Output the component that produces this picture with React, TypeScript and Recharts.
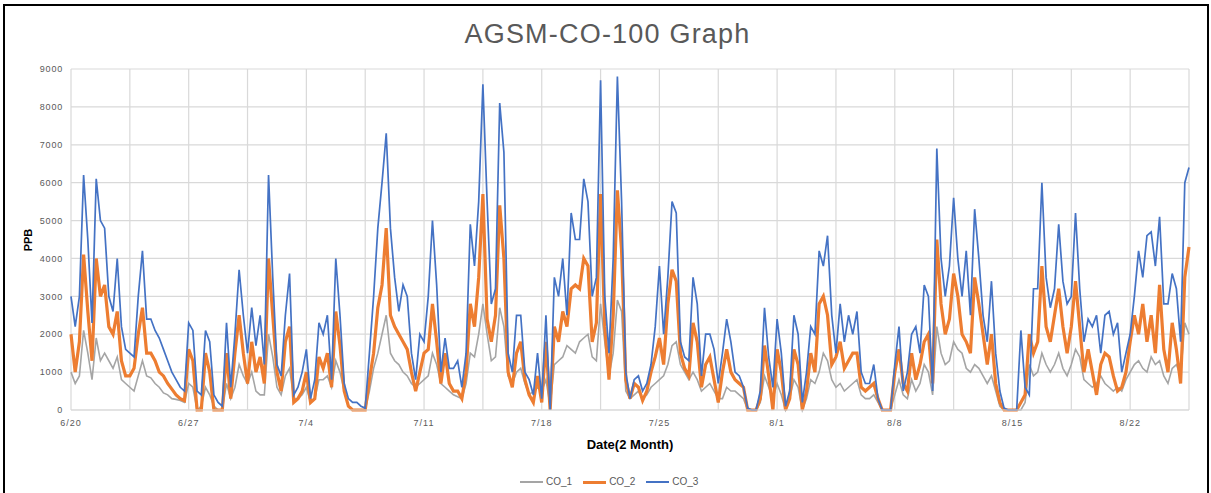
import { LineChart, Line, XAxis, YAxis, CartesianGrid } from "recharts";

// hourly readings thinned to one value every 6 hours, starting 6/20 00:00
const SAMPLES_PER_DAY = 4;

const dateLabels = ["6/20", "6/27", "7/4", "7/11", "7/18", "7/25", "8/1", "8/8", "8/15", "8/22"];

const co1 = [
  1000, 700, 900, 2100, 1500, 800, 1900, 1300, 1500, 1300, 1100, 1400, 800, 700, 600, 500,
  900, 1300, 900, 850, 700, 600, 450, 400, 300, 280, 250, 200, 700, 600, 0, 100,
  600, 400, 100, 0, 0, 700, 300, 600, 1200, 900, 700, 1000, 500, 400, 400, 2000,
  1400, 600, 400, 900, 1100, 300, 300, 400, 600, 200, 300, 800, 800, 900, 600, 1300,
  1000, 500, 100, 0, 0, 0, 0, 500, 1100, 1500, 2000, 2500, 1500, 1300, 1200, 1000,
  900, 700, 600, 700, 800, 900, 1500, 1200, 700, 600, 500, 400, 350, 300, 700, 1500,
  1400, 2000, 2800, 2000, 1300, 1400, 2700, 2200, 900, 700, 1000, 1100, 700, 400, 500, 600,
  500, 800, 100, 1200, 1300, 1400, 1700, 1600, 1500, 1800, 1900, 2000, 1400, 1300, 2800, 1800,
  900, 1500, 2900, 2600, 500, 300, 400, 500, 300, 400, 600, 700, 800, 900, 1200, 1700,
  1800, 1200, 1000, 800, 1000, 800, 500, 600, 700, 500, 300, 300, 600, 500, 500, 400,
  300, 0, 0, 0, 200, 900, 600, 300, 700, 400, 0, 300, 800, 600, 0, 300,
  800, 700, 1000, 1500, 1300, 800, 600, 700, 500, 600, 700, 800, 400, 300, 300, 400,
  200, 0, 0, 0, 400, 800, 400, 300, 800, 500, 700, 1200, 1000, 400, 2200, 1500,
  1200, 1300, 1800, 1600, 1500, 1100, 1000, 1200, 1100, 900, 700, 900, 500, 100, 0, 0,
  0, 0, 0, 200, 1200, 900, 1000, 1500, 1200, 1000, 1200, 1500, 1100, 900, 1200, 1600,
  1400, 800, 700, 600, 700, 900, 700, 600, 500, 600, 500, 800, 1000, 1200, 1300, 1100,
  1000, 1400, 1200, 1300, 900, 700, 1100, 1200, 900, 2300, 2000,
];

const co2 = [
  2000, 1000, 1800, 4100, 2600, 1300, 4000, 3000, 3300, 2200, 2000, 2600, 1300, 900, 900, 1100,
  2000, 2700, 1500, 1500, 1300, 1000, 900, 700, 550, 400, 300, 250, 1600, 1300, 0, 0,
  1500, 1000, 0, 0, 0, 1500, 300, 1500, 2500, 1500, 700, 1800, 1000, 1400, 700, 4000,
  2500, 1000, 500, 1800, 2200, 200, 300, 500, 1000, 200, 300, 1400, 1100, 1500, 600, 2600,
  1700, 500, 100, 0, 0, 0, 0, 800, 1500, 2700, 3300, 4800, 2500, 2200, 2000, 1800,
  1600, 1000, 500, 1000, 1500, 1600, 2800, 1800, 700, 1500, 700, 500, 500, 300, 1000, 2800,
  2200, 3500, 5700, 2400, 1800, 2500, 5400, 4000, 1000, 600, 1500, 1800, 800, 400, 200, 900,
  200, 1800, 0, 2200, 1800, 2600, 2200, 3200, 3300, 3200, 4000, 3800, 1800, 2300, 5700, 2200,
  800, 2500, 5800, 4200, 800, 300, 700, 600, 250, 500, 1000, 1400, 1900, 1200, 2800, 3700,
  3400, 1500, 1100, 900, 2300, 1800, 600, 1200, 1400, 800, 200, 1000, 1600, 1000, 800, 700,
  600, 0, 0, 0, 300, 1700, 900, 0, 1600, 1000, 0, 300, 1600, 1200, 0, 500,
  1500, 1000, 2800, 3000, 2500, 1200, 1400, 1800, 1100, 1300, 1500, 1500, 600, 500, 600, 700,
  300, 0, 0, 0, 1000, 1600, 700, 500, 1500, 800, 1200, 1800, 2000, 700, 4500, 2800,
  2000, 2400, 3600, 3000, 2000, 1800, 1500, 3500, 2800, 2000, 1200, 2000, 700, 200, 0, 0,
  0, 0, 200, 400, 2000, 1500, 1800, 3800, 2200, 1800, 2500, 3200, 2200, 1500, 2200, 3400,
  2200, 1000, 1600, 1000, 400, 1200, 1500, 1400, 900, 500, 600, 1000, 1800, 2500, 2000, 2800,
  1800, 2500, 1500, 3300, 1600, 1000, 2300, 1600, 700, 3500, 4300,
];

const co3 = [
  3000, 2200, 3000, 6200, 4500, 2300, 6100, 5000, 4800, 3000, 2600, 4000, 2200, 1600, 1500, 1400,
  3000, 4200, 2400, 2400, 2100, 1900, 1600, 1300, 1000, 800, 600, 500, 2300, 2100, 500, 400,
  2100, 1800, 400, 200, 100, 2300, 600, 2000, 3700, 2500, 1500, 2700, 1700, 2500, 1200, 6200,
  3500, 1200, 900, 2500, 3600, 400, 600, 1000, 1600, 300, 800, 2300, 2000, 2500, 800, 4000,
  2500, 700, 300, 200, 200, 100, 50, 1500, 3000, 4800, 6000, 7300, 4800, 3500, 2600, 3300,
  3000, 1500, 800, 2000, 1800, 3000, 5000, 3300, 1000, 1900, 1100, 1100, 1300, 600, 1500, 4900,
  3800, 5500, 8600, 5500, 2800, 3200, 8100, 6800, 1500, 1000, 2500, 2500, 1000, 800, 400, 1500,
  300, 2500, 0, 3500, 3000, 4000, 2500, 5200, 4500, 4500, 6100, 5500, 3000, 3500, 8700, 3000,
  1500, 4000, 8800, 5500, 1000, 300, 800, 900, 500, 700, 1200, 2200, 3800, 2000, 3500, 5500,
  5200, 1800, 1400, 1300, 3500, 2800, 900, 2000, 2000, 1600, 700, 1500, 2400, 1800, 1000, 900,
  600, 50, 0, 0, 500, 2700, 1400, 600, 2400, 1500, 100, 500, 2500, 2000, 200, 1000,
  2200, 2000, 4200, 3800, 4600, 2500, 1500, 2800, 1800, 2500, 2000, 2600, 1000, 700, 700, 1200,
  300, 0, 0, 0, 1200, 2200, 500, 1000, 2000, 2200, 1500, 3300, 3000, 500, 6900, 4000,
  3000, 3800, 5600, 4000, 3000, 4200, 2500, 5300, 4000, 2500, 1800, 3400, 1500, 500, 50, 0,
  0, 0, 2100, 600, 400, 3200, 3200, 6000, 3500, 2700, 3200, 4900, 3400, 2800, 3000, 5200,
  3200, 1800, 2400, 2200, 2500, 1500, 2500, 2600, 2000, 2300, 1000, 1500, 2000, 3000, 4200, 3500,
  4600, 4700, 3800, 5100, 2800, 2800, 3600, 3200, 1800, 6000, 6400,
];

const yTicks = [0, 1000, 2000, 3000, 4000, 5000, 6000, 7000, 8000, 9000];

const rows = co1.map((v, i) => ({
  day: i / SAMPLES_PER_DAY,
  co1: v,
  co2: co2[i],
  co3: co3[i],
}));

const lastDay = (co1.length - 1) / SAMPLES_PER_DAY;
// gridlines every half week, labels every week
const xTicks = Array.from({ length: Math.round(lastDay / 3.5) + 1 }, (_, i) => i * 3.5);

const FONT = '"Liberation Sans", Arial, sans-serif';
const TEXT = "#595959";

const legendItems = [
  { name: "CO_1", color: "#A5A5A5", width: 1.5 },
  { name: "CO_2", color: "#ED7D31", width: 3 },
  { name: "CO_3", color: "#4472C4", width: 1.5 },
];

export default function App() {
  return (
    <div
      style={{
        position: "fixed",
        left: 0,
        top: 0,
        width: 1211,
        height: 493,
        background: "#fff",
        overflow: "hidden",
        fontFamily: FONT,
      }}
    >
      <div
        style={{
          position: "absolute",
          left: 3,
          top: 4,
          width: 1202,
          height: 520,
          border: "2px solid #000",
        }}
      />
      <div
        style={{
          position: "absolute",
          left: 0,
          width: 1215,
          top: 21,
          textAlign: "center",
          fontSize: 27,
          lineHeight: "27px",
          letterSpacing: 1.2,
          color: TEXT,
        }}
      >
        AGSM-CO-100 Graph
      </div>

      <div style={{ position: "absolute", left: 0, top: 0 }}>
        <LineChart
          width={1211}
          height={493}
          data={rows}
          margin={{ top: 69, right: 22, bottom: 53, left: 31 }}
        >
          <CartesianGrid stroke="#D9D9D9" strokeWidth={1.2} />
          <XAxis
            dataKey="day"
            type="number"
            domain={[0, lastDay]}
            ticks={xTicks}
            interval={0}
            height={30}
            tickFormatter={(v: number) => (v % 7 === 0 ? dateLabels[v / 7] ?? "" : "")}
            tick={{ fill: TEXT, fontSize: 9, letterSpacing: 1, fontFamily: FONT }}
            axisLine={{ stroke: "#D9D9D9" }}
            tickLine={false}
            tickMargin={4}
          />
          <YAxis
            domain={[0, 9000]}
            ticks={yTicks}
            width={40}
            tick={{ fill: TEXT, fontSize: 9, letterSpacing: 0.8, fontFamily: FONT }}
            axisLine={false}
            tickLine={false}
            tickMargin={2}
          />
          <Line
            dataKey="co1"
            name="CO_1"
            stroke="#A5A5A5"
            strokeWidth={1.6}
            dot={false}
            type="linear"
            isAnimationActive={false}
          />
          <Line
            dataKey="co2"
            name="CO_2"
            stroke="#ED7D31"
            strokeWidth={3.2}
            dot={false}
            type="linear"
            isAnimationActive={false}
          />
          <Line
            dataKey="co3"
            name="CO_3"
            stroke="#4472C4"
            strokeWidth={1.7}
            dot={false}
            type="linear"
            isAnimationActive={false}
          />
        </LineChart>
      </div>

      <div
        style={{
          position: "absolute",
          left: 27.5 - 20,
          top: 240 - 8,
          width: 40,
          textAlign: "center",
          fontSize: 11,
          lineHeight: "16px",
          fontWeight: "bold",
          color: "#000",
          transform: "rotate(-90deg)",
        }}
      >
        PPB
      </div>
      <div
        style={{
          position: "absolute",
          left: 530,
          width: 200,
          top: 437,
          textAlign: "center",
          fontSize: 13,
          lineHeight: "16px",
          fontWeight: "bold",
          color: "#000",
        }}
      >
        Date(2 Month)
      </div>

      <div
        style={{
          position: "absolute",
          left: 520,
          top: 475,
          display: "flex",
          alignItems: "center",
          gap: 11,
          fontSize: 10,
          lineHeight: "14px",
          color: TEXT,
        }}
      >
        {legendItems.map((it) => (
          <div key={it.name} style={{ display: "flex", alignItems: "center", gap: 3 }}>
            <div style={{ width: 23, height: it.width, background: it.color }} />
            <span>{it.name}</span>
          </div>
        ))}
      </div>
    </div>
  );
}
